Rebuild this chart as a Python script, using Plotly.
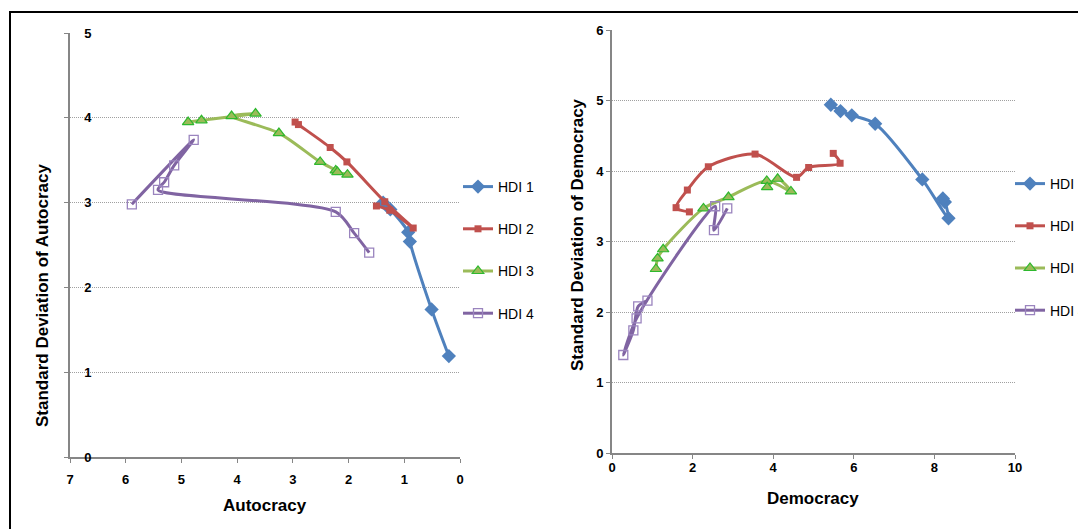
import plotly.graph_objects as go

# ---------------- data ----------------
series_names = ["HDI 1", "HDI 2", "HDI 3", "HDI 4"]

# Left panel: Autocracy vs SD of Autocracy
hdi1_aut_x = [1.38, 1.25, 0.93, 0.90, 0.51, 0.20]
hdi1_aut_y = [3.00, 2.92, 2.65, 2.54, 1.74, 1.19]
hdi2_aut_x = [2.96, 2.90, 2.33, 2.03, 1.35, 0.84, 1.26, 1.50]
hdi2_aut_y = [3.95, 3.92, 3.65, 3.48, 3.01, 2.70, 2.91, 2.96]
hdi3_aut_x = [4.88, 4.64, 3.67, 4.10, 3.25, 2.51, 2.23, 2.20, 2.02]
hdi3_aut_y = [3.95, 3.97, 4.05, 4.02, 3.82, 3.48, 3.38, 3.36, 3.33]
hdi4_aut_x = [5.89, 4.78, 5.13, 5.31, 5.42, 2.23, 1.90, 1.63]
hdi4_aut_y = [2.98, 3.74, 3.44, 3.24, 3.15, 2.89, 2.64, 2.41]

# Right panel: Democracy vs SD of Democracy
hdi1_dem_x = [5.43, 5.67, 5.95, 6.53, 7.70, 8.35, 8.26, 8.21]
hdi1_dem_y = [4.94, 4.85, 4.79, 4.67, 3.88, 3.33, 3.56, 3.61]
hdi2_dem_x = [1.92, 1.59, 1.87, 2.39, 3.55, 4.58, 4.88, 5.66, 5.49]
hdi2_dem_y = [3.42, 3.48, 3.73, 4.06, 4.24, 3.91, 4.05, 4.11, 4.25]
hdi3_dem_x = [1.09, 1.13, 1.27, 2.27, 2.89, 3.84, 4.44, 4.11, 3.85]
hdi3_dem_y = [2.61, 2.76, 2.89, 3.47, 3.63, 3.86, 3.71, 3.89, 3.77]
hdi4_dem_x = [0.88, 0.65, 0.53, 0.28, 0.61, 2.56, 2.53, 2.86]
hdi4_dem_y = [2.16, 2.08, 1.74, 1.39, 1.91, 3.50, 3.16, 3.47]

aut_ticks = [0, 1, 2, 3, 4, 5, 6, 7]
aut_sd_ticks = [0, 1, 2, 3, 4, 5]
dem_ticks = [0, 2, 4, 6, 8, 10]
dem_sd_ticks = [0, 1, 2, 3, 4, 5, 6]

# ---------------- styles ----------------
W, H = 1078, 529
FONT = "Liberation Sans"
line_colors = ["#4F81BD", "#C0504D", "#9BBB59", "#8064A2"]
markers = [
    dict(symbol="diamond", size=11, color="#4F81BD", line=dict(width=0)),
    dict(symbol="square", size=7, color="#C0504D", line=dict(width=0)),
    dict(symbol="triangle-up", size=10, color="#9BBB59", line=dict(width=1.2, color="#2EB82E")),
    dict(symbol="square", size=9, color="rgba(255,255,255,0)", line=dict(width=1.3, color="#9A84BE")),
]

def px_x(p):
    return p / W

def px_y(p):
    return 1 - p / H

fig = go.Figure()

left = [(hdi1_aut_x, hdi1_aut_y), (hdi2_aut_x, hdi2_aut_y), (hdi3_aut_x, hdi3_aut_y), (hdi4_aut_x, hdi4_aut_y)]
right = [(hdi1_dem_x, hdi1_dem_y), (hdi2_dem_x, hdi2_dem_y), (hdi3_dem_x, hdi3_dem_y), (hdi4_dem_x, hdi4_dem_y)]

for i, (xs, ys) in enumerate(left):
    fig.add_trace(go.Scatter(
        x=xs, y=ys, name=series_names[i], mode="lines+markers",
        line=dict(color=line_colors[i], width=3, shape="spline", smoothing=0.8),
        marker=markers[i], xaxis="x", yaxis="y", legend="legend",
        legendgroup="L%d" % i,
    ))
for i, (xs, ys) in enumerate(right):
    fig.add_trace(go.Scatter(
        x=xs, y=ys, name=series_names[i], mode="lines+markers",
        line=dict(color=line_colors[i], width=3, shape="spline", smoothing=0.8),
        marker=markers[i], xaxis="x2", yaxis="y2", legend="legend2",
        legendgroup="R%d" % i,
    ))

axis_line = dict(showline=True, linecolor="#868686", linewidth=2, zeroline=False, automargin=False)
tickfont = dict(family=FONT, size=13, color="black", weight="bold")
grid = dict(showgrid=True, gridcolor="#A0A0A0", griddash="1px,1px", gridwidth=1)

fig.update_layout(
    width=W, height=H,
    margin=dict(l=0, r=0, t=0, b=0, autoexpand=False),
    paper_bgcolor="white", plot_bgcolor="white",
    font=dict(family=FONT, color="black"),
    xaxis=dict(domain=[px_x(70), px_x(460)], range=[7, 0], tickvals=aut_ticks,
               ticks="outside", ticklen=4, tickcolor="#868686", showgrid=False,
               tickfont=tickfont, anchor="y", ticklabelstandoff=5, **axis_line),
    yaxis=dict(domain=[px_y(457), px_y(33)], range=[0, 5], tickvals=aut_sd_ticks,
               ticks="outside", ticklen=4, tickcolor="#868686",
               ticklabelposition="outside", ticklabelstandoff=-30,
               tickfont=tickfont, anchor="x", **grid, **axis_line),
    xaxis2=dict(domain=[px_x(612), px_x(1015)], range=[0, 10], tickvals=dem_ticks,
                ticks="outside", ticklen=4, tickcolor="#868686", showgrid=False,
                tickfont=tickfont, anchor="y2", ticklabelstandoff=-3, **axis_line),
    yaxis2=dict(domain=[px_y(453), px_y(30)], range=[0, 6], tickvals=dem_sd_ticks,
                ticks="outside", ticklen=4, tickcolor="#868686",
                tickfont=tickfont, anchor="x2", **grid, **axis_line),
    legend=dict(x=px_x(458), y=px_y(171), xanchor="left", yanchor="top",
                font=dict(family=FONT, size=14, color="black"),
                bgcolor="rgba(0,0,0,0)", tracegroupgap=21, itemwidth=30),
    legend2=dict(x=px_x(1010), y=px_y(168), xanchor="left", yanchor="top",
                 font=dict(family=FONT, size=14, color="black"),
                 bgcolor="rgba(0,0,0,0)", tracegroupgap=21, itemwidth=30),
    showlegend=True,
)

title_font = dict(family=FONT, size=17, color="black", weight="bold")
fig.add_annotation(text="Autocracy", x=px_x(265), y=px_y(505), xref="paper", yref="paper",
                   showarrow=False, font=title_font, xanchor="center", yanchor="middle")
fig.add_annotation(text="Democracy", x=px_x(813), y=px_y(498), xref="paper", yref="paper",
                   showarrow=False, font=title_font, xanchor="center", yanchor="middle")
fig.add_annotation(text="Standard Deviation of Autocracy", x=px_x(42), y=px_y(296), xref="paper",
                   yref="paper", showarrow=False, font=title_font, textangle=-90,
                   xanchor="center", yanchor="middle")
fig.add_annotation(text="Standard Deviation of Democracy", x=px_x(577), y=px_y(235), xref="paper",
                   yref="paper", showarrow=False, font=title_font, textangle=-90,
                   xanchor="center", yanchor="middle")

# outer frame
fig.add_shape(type="rect", xref="paper", yref="paper",
              x0=px_x(10), y0=px_y(560), x1=px_x(1100), y1=px_y(12),
              line=dict(color="black", width=2), fillcolor="rgba(0,0,0,0)", layer="above")

fig.write_html(
    "out.html",
    config={"displayModeBar": False},
    post_script="document.body.style.margin='0';document.body.style.overflow='hidden';",
)
